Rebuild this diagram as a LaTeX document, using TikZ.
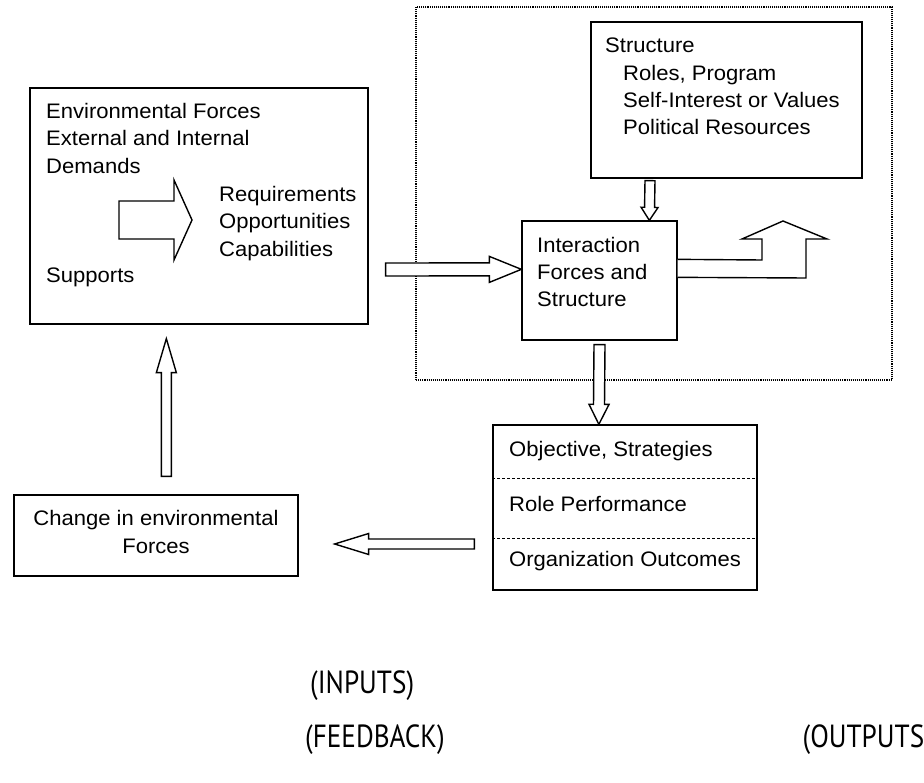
\documentclass[tikz,border=0pt]{standalone}
\usepackage{fontspec}
\setmainfont{Liberation Sans}[FakeStretch=1.05]
\newfontfamily\labelfont{PT Sans}[FakeStretch=0.85]
\usetikzlibrary{calc,fit}

% hollow block arrow: name, tail, tip, shaft half-width, head half-width, head length
\newcommand\BlockArrow[6]{%
  \coordinate (#1-base) at ($(#3)!#6!(#2)$);
  \draw[blockarrow] ($(#2)!#4!90:(#3)$) -- ($(#1-base)!#4!90:(#3)$)
    -- ($(#1-base)!#5!90:(#3)$) -- (#3) -- ($(#1-base)!#5!-90:(#3)$)
    -- ($(#1-base)!#4!-90:(#3)$) -- ($(#2)!#4!-90:(#3)$) -- cycle;}

\begin{document}
\begin{tikzpicture}[x=1pt,y=-1pt,
  box/.style={draw, line width=1.3pt, inner sep=0pt},
  txt/.style={anchor=north west, align=left, inner sep=0pt,
    font=\fontsize{21}{27.5}\selectfont},
  blockarrow/.style={draw, line width=1.4pt, fill=white, line join=miter},
  caption/.style={inner sep=0pt, font=\labelfont\fontsize{32}{34}\selectfont}]
\useasboundingbox[fill=white] (0,0) rectangle (924,783);

% ---- boxes ----
\node[box, fit={(30,88) (368,324)}] (env) {};
\node[draw, densely dotted, line width=1.1pt, inner sep=0pt, fit={(416,7) (892,380)}] (frame) {};
\node[box, fit={(591,22) (862,178)}] (struct) {};
\node[box, fit={(522,221) (677,340)}] (inter) {};
\node[box, fit={(493,425) (757,590)}] (outb) {};
\node[box, fit={(14,495) (298,576)}] (change) {};

% dashed rows of the outputs box
\draw[densely dashed, line width=0.8pt] ($(outb.north west)+(0,54)$) -- ($(outb.north east)+(0,54)$);
\draw[densely dashed, line width=0.8pt] ($(outb.north west)+(0,114)$) -- ($(outb.north east)+(0,114)$);

% ---- texts ----
\node[txt] (envtxt) at (46,103) {Environmental Forces\\External and Internal\\Demands};
\node[txt] (reqtxt) at (219,186) {Requirements\\Opportunities\\Capabilities};
\node[txt] (suptxt) at (46,268) {Supports};
\node[txt] (sttxt) at (605,38) {Structure};
\node[txt, font=\fontsize{21}{27}\selectfont] (stsub) at (623,65) {Roles, Program\\Self-Interest or Values\\Political Resources};
\node[txt, font=\fontsize{21}{27}\selectfont] (intxt) at (537,237) {Interaction\\Forces and\\Structure};
\node[txt] (o1) at (509,441) {Objective, Strategies};
\node[txt] (o2) at (509,496) {Role Performance};
\node[txt] (o3) at (509,551) {Organization Outcomes};
\node[txt, anchor=center, align=center] (chtxt) at (156,532) {Change in environmental\\Forces};

\node[caption, anchor=west] (inputs) at (310,686) {(INPUTS)};
\node[caption, anchor=west] (feedback) at (305,740) {(FEEDBACK)};
\node[caption, anchor=east] (outputs) at (932,740) {(OUTPUTS)};

% ---- block arrows ----
\coordinate (demTail) at (119,220);
\coordinate (demTip) at (192,220);
\BlockArrow{dem}{demTail}{demTip}{19pt}{40pt}{18pt}

\coordinate (inTail) at ($(env.east)+(17,63.5)$);
\coordinate (inTip) at ($(inter.north west)+(0,49)$);
\BlockArrow{in}{inTail}{inTip}{6.5pt}{13pt}{32pt}

\coordinate (stTail) at ($(struct.south)+(-76.5,2)$);
\coordinate (stTip) at ($(inter.north west)+(128,0)$);
\BlockArrow{st}{stTail}{stTip}{5pt}{8.5pt}{13pt}

\coordinate (outTail) at ($(inter.south)+(0,4)$);
\coordinate (outTip) at ($(outb.north west)+(106.5,0)$);
\BlockArrow{out}{outTail}{outTip}{5.5pt}{10pt}{20pt}

\coordinate (fbTail) at ($(outb.west)+(-18,36.5)$);
\coordinate (fbTip) at ($(change.east)+(36,8.5)$);
\BlockArrow{fb}{fbTail}{fbTip}{5pt}{10.5pt}{34pt}

\coordinate (upTail) at ($(change.north west)+(153,-18)$);
\coordinate (upTip) at ($(env.south west)+(137,14)$);
\BlockArrow{up}{upTail}{upTip}{5pt}{10pt}{34pt}

% bent outlet arrow leaving the interaction box
\coordinate (bendTip) at (783,221);
\draw[blockarrow] ($(inter.north east)+(0,39)$) -- (762,260) -- (762,239) -- (742,239)
  -- (bendTip) -- (827,239) -- (806,239) -- (806,278) -- ($(inter.north east)+(0,57)$);
\end{tikzpicture}
\end{document}
